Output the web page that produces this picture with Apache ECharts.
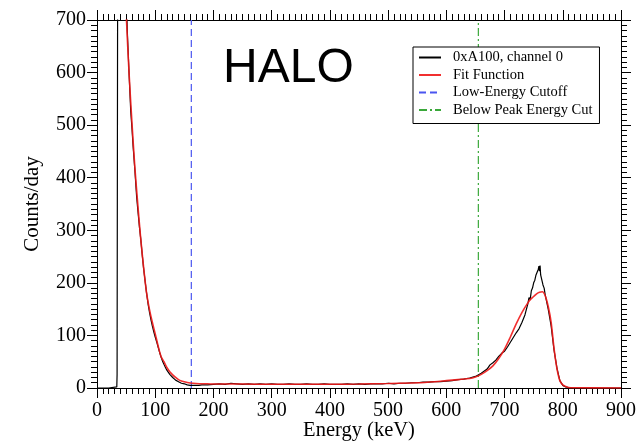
<!DOCTYPE html>
<html style="height: 100%">
<head>
  <meta charset="utf-8">
  <title>HALO spectrum</title>
</head>
<body style="height: 100%; margin: 0; background: #fff">
  <div id="container" style="width: 643px; height: 443px"></div>
  <script src="https://cdn.jsdelivr.net/npm/echarts@6/dist/echarts.min.js"></script>
  <script>
    // measured spectrum (energy keV, counts/day)
    const dataE = [0, 20, 20.5, 34, 34.5, 36.5, 37, 45, 50, 52, 55, 58, 60, 62, 65, 68, 70, 73, 75, 78, 80, 83, 85, 88, 90, 93, 95, 98, 100, 103, 105, 108, 110, 113, 115, 118, 120, 125, 130, 135, 140, 145, 150, 155, 160, 165, 170, 175, 180, 185, 190,
      200, 210, 220, 230, 240, 250, 260, 270, 280, 290, 300, 310, 320, 330, 340, 350, 360, 370, 380, 390, 400, 410, 420, 430, 440, 450, 460, 470, 480, 490, 500, 510, 520, 530, 540, 550, 560, 570, 580, 590, 600, 610, 620, 630, 640, 650, 660,
      670, 675, 680, 685, 690, 695, 700, 705, 710, 715, 720, 725, 730, 735, 740, 742, 744, 746, 748, 750, 752, 754, 756, 758, 759, 760, 761, 762, 764, 766, 768, 770, 775, 780, 785, 790, 795, 800, 805, 810, 820, 900];
    const dataCounts = [0, 0, 2, 2, 25, 25, 2000, 1100, 760, 680, 600, 525, 495, 460, 415, 365, 340, 305, 285, 250, 228, 200, 182, 158, 145, 128, 118, 105, 97, 86, 78, 66, 59, 50, 45, 38, 34, 26, 20, 15, 12, 9, 8, 6, 5, 5, 5, 5, 6, 6, 6,
      7, 8, 7, 9, 8, 7, 8, 7, 8, 7, 8, 7, 7, 8, 7, 7, 8, 7, 7, 8, 7, 7, 7, 8, 7, 8, 7, 8, 8, 8, 9, 8, 9, 9, 10, 10, 11, 11, 12, 12, 13, 14, 16, 17, 19, 22, 28,
      36, 44, 48, 53, 60, 66, 70, 78, 87, 96, 105, 113, 125, 139, 160, 172, 168, 185, 190, 200, 205, 215, 212, 226, 232, 222, 233, 215, 212, 196, 190, 176, 150, 118, 72, 38, 14, 5, 2, 1, 0, 0];

    // fit function
    const fitE = [50, 55, 60, 65, 70, 75, 80, 85, 90, 95, 100, 105, 110, 115, 120, 125, 130, 135, 140, 145, 150, 155, 160, 170, 180, 190, 200, 250, 300, 350, 400, 450, 500, 550, 580, 600, 620, 640, 650, 660, 670, 680, 690, 700,
      710, 720, 730, 740, 745, 750, 755, 760, 765, 770, 775, 780, 785, 790, 795, 800, 805, 810, 820, 900];
    const fitCounts = [715, 600, 505, 420, 350, 285, 230, 182, 150, 125, 103, 80, 60, 50, 39, 31, 25, 20, 16, 13.5, 12, 10.5, 9.5, 8.5, 8, 8, 7.5, 7.5, 7, 7, 7, 7.5, 8.5, 10, 12, 14, 16, 18, 21, 26, 33, 42, 56, 74,
      97, 122, 144, 162, 169, 174, 179, 182, 183, 175, 155, 125, 75, 37, 14, 6, 3, 1, 0.5, 0];

    const lowCut = 162;
    const peakCut = 655;
    const names = ['0xA100, channel 0', 'Fit Function', 'Low-Energy Cutoff', 'Below Peak Energy Cut'];

    const serif = 'Liberation Serif';
    const zip = (xs, ys) => xs.map((x, i) => [x, ys[i]]);

    const axisCommon = {
      type: 'value',
      axisLine: { show: true, onZero: false, lineStyle: { color: '#000', width: 1 } },
      axisTick: { show: true, inside: false, length: 10, lineStyle: { color: '#000' } },
      minorTick: { show: true, splitNumber: 10, length: 6, lineStyle: { color: '#000' } },
      splitLine: { show: false }
    };

    let myChart = echarts.init(document.getElementById('container'));
    let option = {
      animation: false,
      grid: { left: 97, right: 22, top: 20, bottom: 55, containLabel: false, outerBoundsMode: 'none' },
      xAxis: [
        Object.assign({}, axisCommon, {
          position: 'bottom', min: 0, max: 900, interval: 100,
          name: 'Energy (keV)', nameLocation: 'middle', nameGap: 32, nameMoveOverlap: false,
          nameTextStyle: { fontFamily: serif, fontSize: 20.5, color: '#000' },
          axisLabel: { fontFamily: serif, fontSize: 20, color: '#000', margin: 13 }
        }),
        Object.assign({}, axisCommon, {
          position: 'top', min: 0, max: 900, interval: 100,
          axisLabel: { show: false }
        })
      ],
      yAxis: [
        Object.assign({}, axisCommon, {
          position: 'left', min: 0, max: 700, interval: 100,
          name: 'Counts/day', nameLocation: 'middle', nameGap: 54, nameMoveOverlap: false,
          nameTextStyle: { fontFamily: serif, fontSize: 21, color: '#000' },
          axisLabel: { fontFamily: serif, fontSize: 20, color: '#000', margin: 11 }
        }),
        Object.assign({}, axisCommon, {
          position: 'right', min: 0, max: 700, interval: 100,
          axisLabel: { show: false }
        })
      ],
      legend: {
        orient: 'vertical',
        left: 413, top: 47,
        padding: [3, 7, 6, 5],
        itemGap: 2.5,
        itemWidth: 22,
        itemHeight: 14,
        borderColor: '#000',
        borderWidth: 1,
        backgroundColor: '#fff',
        itemStyle: { opacity: 0 },
        textStyle: { fontFamily: serif, fontSize: 14.5, color: '#000', padding: [0, 0, 0, 7] },
        data: names
      },
      graphic: [{
        type: 'text',
        left: 223, top: 45,
        style: { text: 'HALO', font: '48px "Liberation Sans"', fill: '#000' }
      }],
      series: [
        {
          name: names[0], type: 'line', showSymbol: false, symbol: 'none', clip: true,
          data: zip(dataE, dataCounts),
          lineStyle: { color: '#000', width: 1.2 }, itemStyle: { color: '#000' }, z: 2
        },
        {
          name: names[1], type: 'line', showSymbol: false, symbol: 'none', clip: true, smooth: 0.3,
          data: zip(fitE, fitCounts),
          lineStyle: { color: '#f01818', width: 1.6, opacity: 0.9 }, itemStyle: { color: '#f01818' }, z: 3
        },
        {
          name: names[2], type: 'line', showSymbol: false, symbol: 'none',
          data: [[lowCut, 0], [lowCut, 700]],
          lineStyle: { color: '#4a55f0', width: 1.2, type: [7, 4] }, itemStyle: { color: '#4a55f0' }, z: 1
        },
        {
          name: names[3], type: 'line', showSymbol: false, symbol: 'none',
          data: [[peakCut, 0], [peakCut, 700]],
          lineStyle: { color: '#3aa83a', width: 1.2, type: [8, 3, 2, 3] }, itemStyle: { color: '#3aa83a' }, z: 1
        }
      ]
    };
    myChart.setOption(option);
  </script>
</body>
</html>
